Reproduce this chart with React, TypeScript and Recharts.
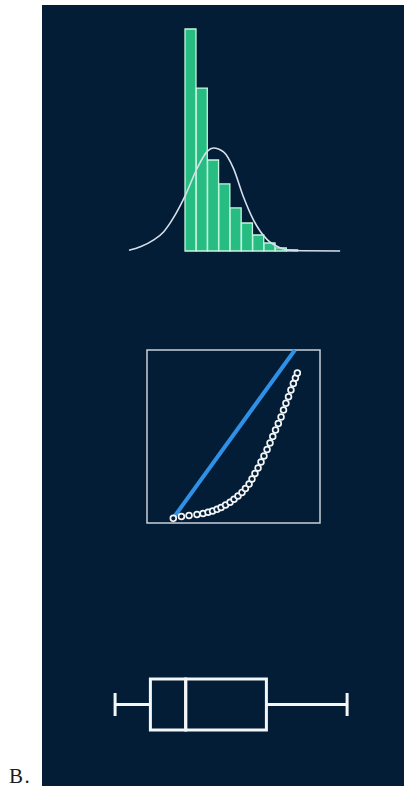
import React from 'react';
import {
  BarChart,
  Bar,
  LineChart,
  Line,
  ComposedChart,
  Scatter,
  XAxis,
  YAxis,
  ReferenceArea,
} from 'recharts';

const BG = '#021d35';

// Histogram bins (tallest bin = 100)
const binLabels = ['1', '2', '3', '4', '5', '6', '7', '8', '9', '10'];
const binCounts = [100, 73.4, 41, 30.2, 19.4, 12.6, 7.2, 3.6, 1.4, 0.5];

const curveX = [-5, -3.99, -2.81, -1.92, -1.18, -0.44, 0, 1.06, 1.95, 2.48, 3.37, 4.25, 5.14, 6.02, 7.26, 8.41, 9.57, 13.7];
const curveY = [0.3, 1.9, 5.0, 8.7, 14.0, 20.7, 25.2, 37.5, 45.0, 46.4, 44.6, 37.2, 24.3, 14.0, 5.0, 1.4, 0.2, 0];

// Q-Q plot points (frame is 0..10 on both axes)
const qqTheoretical = [1.52, 1.99, 2.43, 2.89, 3.24, 3.53, 3.79, 4.05, 4.28, 4.54, 4.8, 5.03, 5.26, 5.49, 5.69, 5.9, 6.07, 6.24, 6.42, 6.59, 6.76, 6.94, 7.11, 7.27, 7.43, 7.59, 7.75, 7.89, 8.03, 8.18, 8.32, 8.46, 8.58, 8.69];
const qqSample = [0.27, 0.38, 0.43, 0.49, 0.55, 0.62, 0.69, 0.79, 0.9, 1.04, 1.2, 1.37, 1.56, 1.77, 1.99, 2.25, 2.54, 2.86, 3.18, 3.53, 3.87, 4.25, 4.62, 5.0, 5.38, 5.75, 6.13, 6.53, 6.92, 7.3, 7.69, 8.06, 8.38, 8.67];
const qqLineX = [1.5, 8.55];
const qqLineY = [0.26, 10];

// Box plot five-number summary
const boxMin = 1;
const boxQ1 = 4.5;
const boxMedian = 8;
const boxQ3 = 16;
const boxMax = 24;

const histData = binLabels.map((b, i) => ({ bin: b, count: binCounts[i] }));
const curveData = curveX.map((x, i) => ({ x, y: curveY[i] }));
const qqData = qqTheoretical.map((x, i) => ({ x, y: qqSample[i] }));
const qqLine = qqLineX.map((x, i) => ({ x, y: qqLineY[i] }));
const boxData = [
  {
    name: 'B',
    base: boxMin,
    lowWhisker: boxQ1 - boxMin,
    lowBox: boxMedian - boxQ1,
    highBox: boxQ3 - boxMedian,
    highWhisker: boxMax - boxQ3,
  },
];

const BOX_STROKE = '#f4f6f8';
const CAP = 23;

const WhiskerLeft = (p: any) => {
  const cy = p.y + p.height / 2;
  return (
    <g stroke={BOX_STROKE} strokeWidth={3}>
      <line x1={p.x} y1={cy} x2={p.x + p.width} y2={cy} />
      <line x1={p.x} y1={cy - CAP / 2} x2={p.x} y2={cy + CAP / 2} />
    </g>
  );
};

const WhiskerRight = (p: any) => {
  const cy = p.y + p.height / 2;
  const xe = p.x + p.width;
  return (
    <g stroke={BOX_STROKE} strokeWidth={3}>
      <line x1={p.x} y1={cy} x2={xe} y2={cy} />
      <line x1={xe} y1={cy - CAP / 2} x2={xe} y2={cy + CAP / 2} />
    </g>
  );
};

const BoxPart = (p: any) => (
  <rect x={p.x} y={p.y} width={p.width} height={p.height} fill="none" stroke={BOX_STROKE} strokeWidth={3} />
);

const QQDot = (p: any) => (
  <circle cx={p.cx} cy={p.cy} r={2.9} fill={BG} stroke="#f2f4f6" strokeWidth={1.7} />
);

const abs = (left: number, top: number): React.CSSProperties => ({ position: 'absolute', left, top });

export default function App() {
  return (
    <div style={{ position: 'absolute', left: 0, top: 0, width: 405, height: 794, background: '#fff' }}>
      <div style={{ position: 'absolute', left: 42, top: 5, width: 362, height: 781, background: BG }} />

      {/* histogram */}
      <div style={abs(181, 24.8)}>
        <BarChart width={120.9} height={230} data={histData} margin={{ top: 4, right: 4, bottom: 4, left: 4 }} barCategoryGap={0} barGap={0}>
          <XAxis dataKey="bin" hide />
          <YAxis domain={[0, 100]} hide />
          <Bar dataKey="count" fill="#27bd82" stroke="#c4f5df" strokeWidth={1.3} isAnimationActive={false} />
        </BarChart>
      </div>
      <div style={abs(124.55, 24.8)}>
        <LineChart width={219.15} height={230} data={curveData} margin={{ top: 4, right: 4, bottom: 4, left: 4 }}>
          <XAxis dataKey="x" type="number" domain={[-5, 13.7]} hide />
          <YAxis domain={[0, 100]} hide />
          <Line dataKey="y" type="monotone" stroke="#d6e0ea" strokeWidth={1.6} dot={false} isAnimationActive={false} />
        </LineChart>
      </div>

      {/* Q-Q plot */}
      <div style={abs(141, 344)}>
        <ComposedChart width={185} height={185} margin={{ top: 6, right: 6, bottom: 6, left: 6 }}>
          <XAxis dataKey="x" type="number" domain={[0, 10]} hide />
          <YAxis dataKey="y" type="number" domain={[0, 10]} hide />
          <ReferenceArea x1={0} x2={10} y1={0} y2={10} fill="none" stroke="#c9d0d8" strokeWidth={1.5} />
          <Line data={qqLine} dataKey="y" type="linear" stroke="#2f90e6" strokeWidth={4} dot={false} isAnimationActive={false} />
          <Scatter data={qqData} dataKey="y" shape={QQDot} isAnimationActive={false} />
        </ComposedChart>
      </div>

      {/* box plot */}
      <div style={abs(98.9, 673)}>
        <ComposedChart layout="vertical" width={264.2} height={63} data={boxData} margin={{ top: 6, right: 6, bottom: 6, left: 6 }} barCategoryGap={0}>
          <XAxis type="number" domain={[0, 25]} hide />
          <YAxis type="category" dataKey="name" hide />
          <Bar dataKey="base" stackId="b" fill="none" isAnimationActive={false} />
          <Bar dataKey="lowWhisker" stackId="b" shape={WhiskerLeft} isAnimationActive={false} />
          <Bar dataKey="lowBox" stackId="b" shape={BoxPart} isAnimationActive={false} />
          <Bar dataKey="highBox" stackId="b" shape={BoxPart} isAnimationActive={false} />
          <Bar dataKey="highWhisker" stackId="b" shape={WhiskerRight} isAnimationActive={false} />
        </ComposedChart>
      </div>

      <div style={{ ...abs(9, 766), fontFamily: '"Liberation Serif", serif', fontSize: 21, lineHeight: '21px', letterSpacing: 1.5, color: '#1c1c1c' }}>
        B.
      </div>
    </div>
  );
}
